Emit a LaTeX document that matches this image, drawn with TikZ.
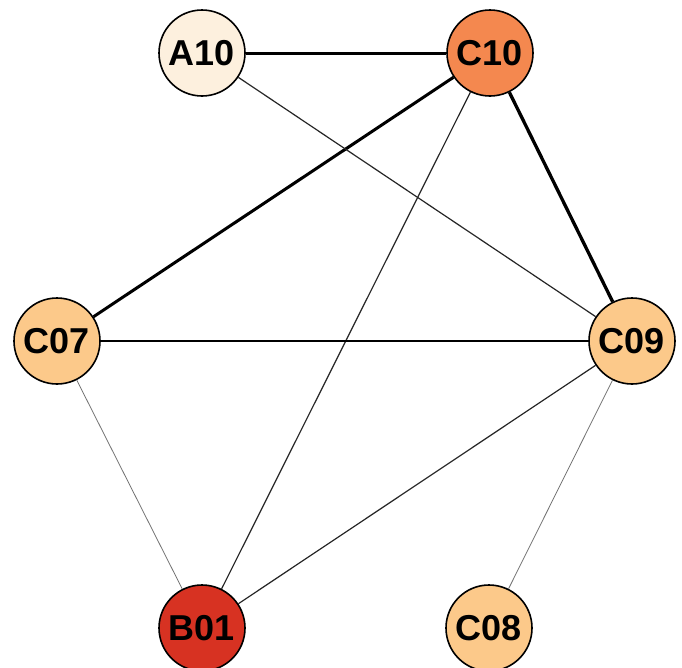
\documentclass[tikz,border=0pt]{standalone}
\usepackage{fontspec}
\setmainfont{Liberation Sans}
\definecolor{paleA}{HTML}{FDF0DE}
\definecolor{orangeC}{HTML}{F4884F}
\definecolor{peachC}{HTML}{FCC98A}
\definecolor{redB}{HTML}{D73222}
\tikzset{
  vertex/.style={circle, draw=black, line width=1.6pt, minimum size=86pt, inner sep=0pt,
    font=\fontsize{36}{36}\selectfont\bfseries},
  heavy/.style={line width=3pt, black},
  mid/.style={line width=1.8pt, black},
  light/.style={line width=1.2pt, black!85},
  faint/.style={line width=0.8pt, black!55}
}
\begin{document}
\begin{tikzpicture}[x=1pt, y=-1pt]
\useasboundingbox (0,0) rectangle (682,667);
\fill[white] (0,0) rectangle (682,667);
% vertex positions
\coordinate (pA10) at (202,53);
\coordinate (pC10) at (490,53);
\coordinate (pC07) at (57,341);
\coordinate (pC09) at (632,341);
\coordinate (pB01) at (202,628);
\coordinate (pC08) at (489,628);
% vertices
\node[vertex, fill=paleA]   (A10) at (pA10) {A10};
\node[vertex, fill=orangeC] (C10) at (pC10) {C10};
\node[vertex, fill=peachC]  (C07) at (pC07) {C07};
\node[vertex, fill=peachC]  (C09) at (pC09) {C09};
\node[vertex, fill=redB]    (B01) at (pB01) {B01};
\node[vertex, fill=peachC]  (C08) at (pC08) {C08};
% edges, weighted by line width
\draw[heavy] (A10) -- (C10);
\draw[heavy] (C10) -- (C07);
\draw[heavy, line width=3.3pt] (C10) -- (C09);
\draw[light] (A10) -- (C09);
\draw[light] (C10) -- (B01);
\draw[mid] (C07) -- (C09);
\draw[faint] (C07) -- (B01);
\draw[light] (C09) -- (B01);
\draw[faint] (C09) -- (C08);
\end{tikzpicture}
\end{document}
